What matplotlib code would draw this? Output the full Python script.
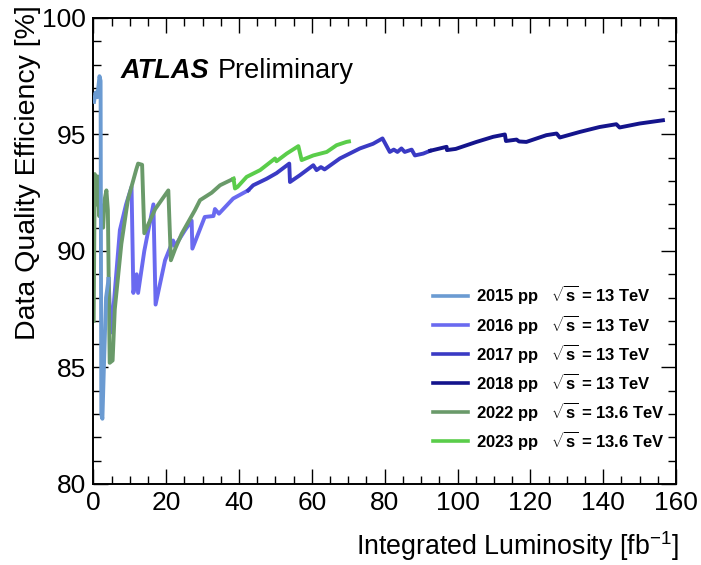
import matplotlib
matplotlib.use('Agg')
import matplotlib.pyplot as plt
from matplotlib.ticker import MultipleLocator

plt.rcParams['font.family'] = ['Liberation Sans', 'DejaVu Sans']
plt.rcParams['mathtext.fontset'] = 'custom'
plt.rcParams['mathtext.rm'] = 'Liberation Sans'
plt.rcParams['mathtext.it'] = 'Liberation Sans:italic'
plt.rcParams['mathtext.bf'] = 'Liberation Sans:bold'

# cumulative delivered luminosity [fb-1] and cumulative DQ efficiency [%]
lumi_2015 = [0.2, 0.6, 1.1, 1.7, 2.0, 2.2, 2.5, 3.0, 3.5, 4.2]
eff_2015 = [96.4, 96.8, 96.6, 97.5, 97.3, 83.0, 82.8, 85.5, 88.0, 88.8]

lumi_2016 = [4.2, 4.8, 5.5, 7.3, 9.0, 10.5, 11.0, 11.9, 12.3, 14.0, 16.5, 17.1, 19.7,
             21.9, 22.4, 25.2, 27.0, 27.2, 30.6, 33.0, 33.4, 34.5, 38.4, 42.5]
eff_2016 = [88.8, 86.5, 87.5, 90.9, 92.0, 92.75, 88.2, 89.0, 88.2, 90.0, 92.0, 87.7, 89.6,
            90.45, 90.2, 90.9, 91.3, 90.1, 91.46, 91.5, 91.8, 91.6, 92.25, 92.6]

lumi_2017 = [42.5, 43.9, 47.6, 50.3, 53.8, 54.0, 56.7, 60.4, 61.3, 62.5, 63.5, 67.7,
             73.2, 76.8, 79.4, 81.4, 82.5, 83.5, 84.6, 85.5, 87.4, 88.3, 90.6, 92.5]
eff_2017 = [92.6, 92.82, 93.1, 93.34, 93.75, 92.96, 93.25, 93.68, 93.47, 93.6, 93.5, 93.97,
            94.4, 94.6, 94.83, 94.25, 94.35, 94.25, 94.4, 94.25, 94.35, 94.1, 94.18, 94.3]

lumi_2018 = [92.5, 97.0, 97.1, 99.5, 105.2, 109.8, 113.0, 113.3, 116.2, 116.9, 118.9,
             124.4, 127.2, 128.1, 133.6, 139.0, 143.6, 144.5, 150.0, 156.4]
eff_2018 = [94.3, 94.47, 94.33, 94.38, 94.68, 94.9, 95.0, 94.72, 94.78, 94.7, 94.68,
            94.97, 95.04, 94.87, 95.11, 95.32, 95.44, 95.3, 95.47, 95.61]

lumi_2022 = [0.1, 0.4, 0.8, 1.2, 1.6, 2.0, 2.7, 3.1, 3.6, 4.0, 4.5, 5.3, 5.9, 7.7, 9.5,
             11.8, 12.3, 13.4, 14.0, 17.0, 20.6, 21.3, 22.5, 24.3, 27.9, 29.3, 32.5,
             34.8, 36.5, 38.5]
eff_2022 = [87.0, 93.3, 92.0, 93.2, 91.5, 92.0, 91.0, 92.2, 92.6, 91.75, 85.2, 85.3, 87.5,
            90.3, 92.2, 93.5, 93.75, 93.7, 90.76, 91.8, 92.6, 89.6, 90.1, 90.75, 91.75,
            92.18, 92.5, 92.82, 92.95, 93.1]

lumi_2023 = [38.5, 38.9, 39.6, 42.1, 45.8, 49.9, 50.3, 53.1, 56.3, 57.2, 60.4, 64.1,
             66.8, 69.5, 70.2]
eff_2023 = [93.1, 92.68, 92.75, 93.18, 93.47, 93.97, 93.85, 94.18, 94.5, 93.9, 94.1, 94.25,
            94.54, 94.68, 94.7]

years = ['2015', '2016', '2017', '2018', '2022', '2023']
energies = ['13', '13', '13', '13', '13.6', '13.6']
colors = ['#6b9bd2', '#6a6af0', '#3a3ac4', '#14148c', '#6a9a6a', '#5acd4a']
series = [(lumi_2015, eff_2015), (lumi_2016, eff_2016), (lumi_2017, eff_2017),
          (lumi_2018, eff_2018), (lumi_2022, eff_2022), (lumi_2023, eff_2023)]

fig = plt.figure(figsize=(7.01, 5.65), dpi=100)
ax = fig.add_axes([0.1331, 0.1434, 0.8313, 0.8248])

handles = []
for year, energy, color, (x, y) in zip(years, energies, colors, series):
    z = 3 if year == '2015' else 2
    line, = ax.plot(x, y, color=color, lw=2.8, zorder=z,
                    label=year + ' pp   $\\sqrt{\\mathbf{s}}$ = ' + energy + ' TeV')
    handles.append(line)

ax.set_xlim(0, 160)
ax.set_ylim(80, 100)
ax.xaxis.set_major_locator(MultipleLocator(20))
ax.xaxis.set_minor_locator(MultipleLocator(5))
ax.yaxis.set_major_locator(MultipleLocator(5))
ax.yaxis.set_minor_locator(MultipleLocator(1))
ax.tick_params(which='both', direction='in', top=True, right=True, width=1.0)
ax.tick_params(which='major', length=11, labelsize=19, pad=5)
ax.tick_params(which='minor', length=5.5)
for s in ax.spines.values():
    s.set_linewidth(1.4)

ax.set_ylabel('Data Quality Efficiency [%]', fontsize=20.5, loc='top')
ax.yaxis.set_label_coords(-0.09, 1.028)
ax.set_xlabel('Integrated Luminosity [fb$^{-1}$]', fontsize=19.3, loc='right')
ax.xaxis.set_label_coords(1.005, -0.097)

ax.text(0.046, 0.871, 'ATLAS', transform=ax.transAxes, fontsize=19.5,
        fontweight='bold', fontstyle='italic', va='baseline')
ax.text(0.214, 0.871, 'Preliminary', transform=ax.transAxes, fontsize=19.5,
        va='baseline')

leg = ax.legend(handles=handles, loc='upper left', bbox_to_anchor=(0.583, 0.4305),
                frameon=False, prop={'weight': 'bold', 'size': 12}, handlelength=2.1,
                handletextpad=0.5, labelspacing=0.37, borderpad=0, borderaxespad=0)
for l in leg.get_lines():
    l.set_linewidth(2.6)

fig.savefig('out.png', dpi=100)
